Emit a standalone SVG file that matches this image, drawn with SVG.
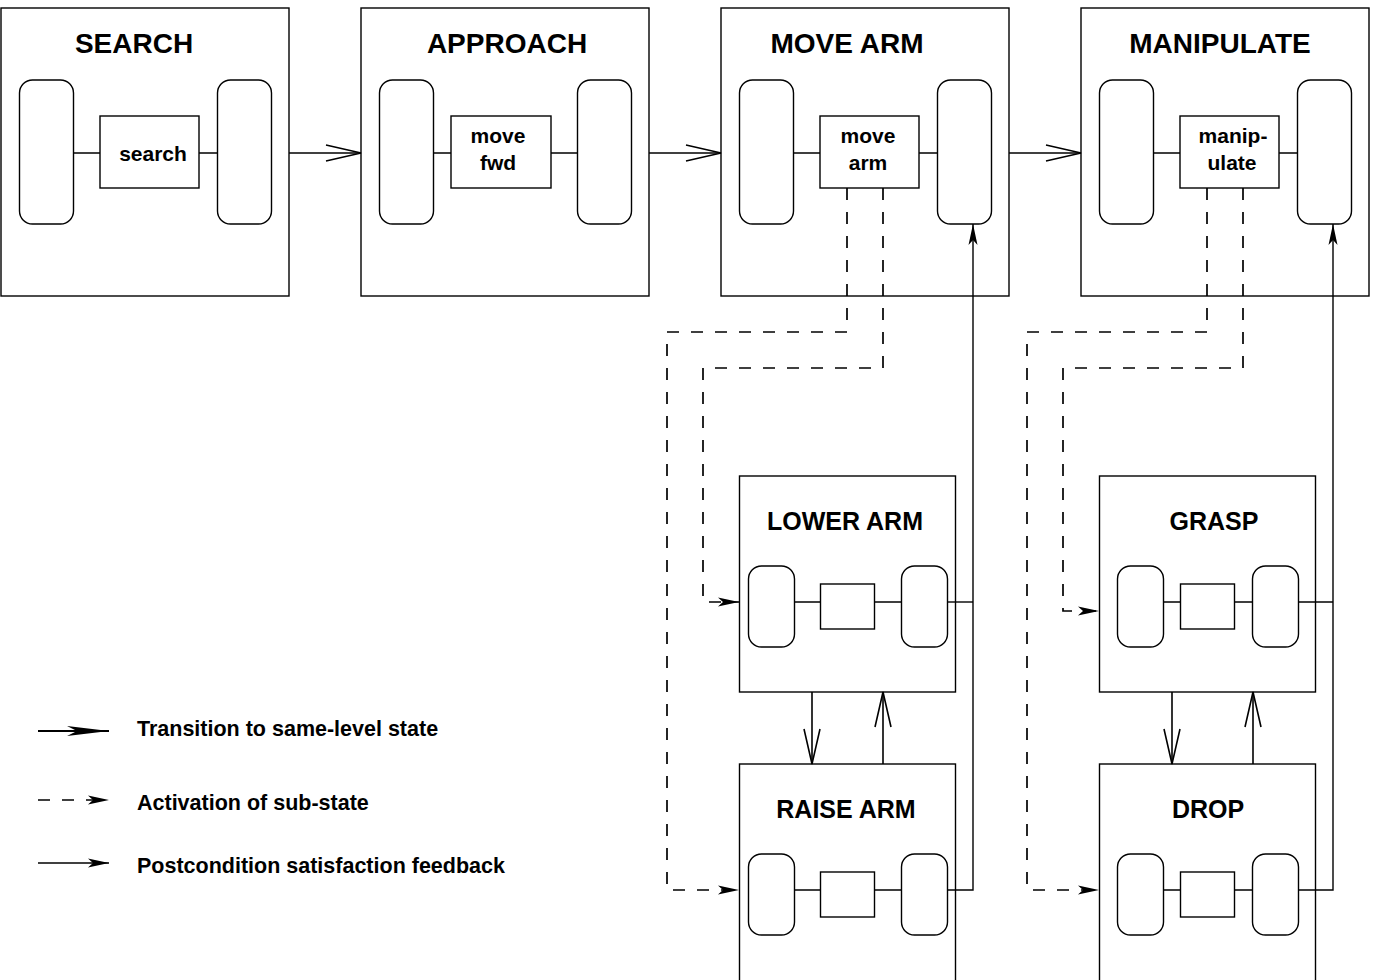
<svg xmlns="http://www.w3.org/2000/svg" width="1374" height="980" viewBox="0 0 1374 980">
<style>
.box{fill:#fff;stroke:#000;stroke-width:1.4}
.pill{fill:#fff;stroke:#000;stroke-width:1.4}
.act{fill:#fff;stroke:#000;stroke-width:1.4}
.ln{fill:none;stroke:#000;stroke-width:1.4}
.tr{fill:none;stroke:#000;stroke-width:1.6}
.dash{fill:none;stroke:#000;stroke-width:1.7;stroke-dasharray:12 12}
.t1{font-family:"Liberation Sans",Arial,Helvetica,sans-serif;font-weight:bold;font-size:28px;text-anchor:middle;fill:#000}
.t2{font-family:"Liberation Sans",Arial,Helvetica,sans-serif;font-weight:bold;font-size:25px;text-anchor:middle;fill:#000}
.t3{font-family:"Liberation Sans",Arial,Helvetica,sans-serif;font-weight:bold;font-size:21px;text-anchor:middle;fill:#000}
.lg{font-family:"Liberation Sans",Arial,Helvetica,sans-serif;font-weight:bold;font-size:21.5px;fill:#000}
</style>
<defs>
<marker id="open" markerUnits="userSpaceOnUse" markerWidth="40" markerHeight="22" viewBox="-38 -11 40 22" refX="0" refY="0" orient="auto" overflow="visible">
<path d="M-35,-8 L0,0 L-35,8" fill="none" stroke="#000" stroke-width="1.6"/>
</marker>
<marker id="fill" markerUnits="userSpaceOnUse" markerWidth="24" markerHeight="12" viewBox="-22 -6 24 12" refX="0" refY="0" orient="auto" overflow="visible">
<path d="M0,0 L-21,-4.5 L-16,0 L-21,4.5 Z" fill="#000"/>
</marker>
<marker id="big" markerUnits="userSpaceOnUse" markerWidth="46" markerHeight="14" viewBox="-44 -7 46 14" refX="0" refY="0" orient="auto" overflow="visible">
<path d="M0,0 L-42,-5 L-32,0 L-42,5 Z" fill="#000"/>
</marker>
</defs>
<rect width="1374" height="980" fill="#fff"/>

<g id="search">
<rect class="box" x="1" y="8" width="288" height="288"/>
<text class="t1" x="134" y="53">SEARCH</text>
<rect class="pill" x="19.5" y="80" width="54" height="144" rx="13"/>
<rect class="pill" x="217.5" y="80" width="54" height="144" rx="13"/>
<rect class="act" x="100" y="116" width="99" height="72"/>
<path class="ln" d="M73.5,153 H100 M199,153 H217.5"/>
<text class="t3" x="153" y="161">search</text>
</g>

<g id="approach">
<rect class="box" x="361" y="8" width="288" height="288"/>
<text class="t1" x="507" y="53">APPROACH</text>
<rect class="pill" x="379.5" y="80" width="54" height="144" rx="13"/>
<rect class="pill" x="577.5" y="80" width="54" height="144" rx="13"/>
<rect class="act" x="451" y="116" width="100" height="72"/>
<path class="ln" d="M433.5,153 H451 M551,153 H577.5"/>
<text class="t3" x="498" y="143">move</text>
<text class="t3" x="498" y="170">fwd</text>
</g>

<g id="movearm">
<rect class="box" x="721" y="8" width="288" height="288"/>
<text class="t1" x="847" y="53">MOVE ARM</text>
<rect class="pill" x="739.5" y="80" width="54" height="144" rx="13"/>
<rect class="pill" x="937.5" y="80" width="54" height="144" rx="13"/>
<rect class="act" x="820" y="116" width="99" height="72"/>
<path class="ln" d="M793.5,153 H820 M919,153 H937.5"/>
<text class="t3" x="868" y="143">move</text>
<text class="t3" x="868" y="170">arm</text>
</g>

<g id="manipulate">
<rect class="box" x="1081" y="8" width="288" height="288"/>
<text class="t1" x="1220" y="53">MANIPULATE</text>
<rect class="pill" x="1099.5" y="80" width="54" height="144" rx="13"/>
<rect class="pill" x="1297.5" y="80" width="54" height="144" rx="13"/>
<rect class="act" x="1180" y="116" width="99" height="72"/>
<path class="ln" d="M1153.5,153 H1180 M1279,153 H1297.5"/>
<text class="t3" x="1233" y="143">manip-</text>
<text class="t3" x="1232" y="170">ulate</text>
</g>

<g id="lowerarm">
<rect class="box" x="739.5" y="476" width="216" height="216"/>
<text class="t2" x="845" y="530">LOWER ARM</text>
<rect class="pill" x="748.5" y="566" width="46" height="81" rx="13"/>
<rect class="pill" x="901.5" y="566" width="46" height="81" rx="13"/>
<rect class="act" x="820.5" y="584" width="54" height="45"/>
<path class="ln" d="M794.5,602 H820.5 M874.5,602 H901.5"/>
</g>

<g id="raisearm">
<rect class="box" x="739.5" y="764" width="216" height="218"/>
<text class="t2" x="846" y="818">RAISE ARM</text>
<rect class="pill" x="748.5" y="854" width="46" height="81" rx="13"/>
<rect class="pill" x="901.5" y="854" width="46" height="81" rx="13"/>
<rect class="act" x="820.5" y="872" width="54" height="45"/>
<path class="ln" d="M794.5,890 H820.5 M874.5,890 H901.5"/>
</g>

<g id="grasp">
<rect class="box" x="1099.5" y="476" width="216" height="216"/>
<text class="t2" x="1214" y="530">GRASP</text>
<rect class="pill" x="1117.5" y="566" width="46" height="81" rx="13"/>
<rect class="pill" x="1252.5" y="566" width="46" height="81" rx="13"/>
<rect class="act" x="1180.5" y="584" width="54" height="45"/>
<path class="ln" d="M1163.5,602 H1180.5 M1234.5,602 H1252.5"/>
</g>

<g id="drop">
<rect class="box" x="1099.5" y="764" width="216" height="218"/>
<text class="t2" x="1208" y="818">DROP</text>
<rect class="pill" x="1117.5" y="854" width="46" height="81" rx="13"/>
<rect class="pill" x="1252.5" y="854" width="46" height="81" rx="13"/>
<rect class="act" x="1180.5" y="872" width="54" height="45"/>
<path class="ln" d="M1163.5,890 H1180.5 M1234.5,890 H1252.5"/>
</g>

<g id="connectors">
<path class="tr" d="M289,153 H361" marker-end="url(#open)"/>
<path class="tr" d="M649,153 H721" marker-end="url(#open)"/>
<path class="tr" d="M1009,153 H1081" marker-end="url(#open)"/>

<path class="tr" d="M812,692 V764" marker-end="url(#open)"/>
<path class="tr" d="M883,764 V692" marker-end="url(#open)"/>
<path class="tr" d="M1172,692 V764" marker-end="url(#open)"/>
<path class="tr" d="M1253,764 V692" marker-end="url(#open)"/>

<path class="dash" d="M847,188 V332 H667 V890 H739" marker-end="url(#fill)"/>
<path class="dash" d="M883,188 V368 H703 V602 H739" marker-end="url(#fill)"/>
<path class="dash" d="M1207,188 V332 H1027 V890 H1099" marker-end="url(#fill)"/>
<path class="dash" d="M1243,188 V368 H1063 V611 H1099" marker-end="url(#fill)"/>

<path class="ln" d="M947.5,890 H973 V224" marker-end="url(#fill)"/>
<path class="ln" d="M947.5,602 H973"/>
<path class="ln" d="M1298.5,890 H1333 V224" marker-end="url(#fill)"/>
<path class="ln" d="M1298.5,602 H1333"/>
</g>

<g id="legend">
<path d="M38,731 H109" fill="none" stroke="#000" stroke-width="2" marker-end="url(#big)"/>
<text class="lg" x="137" y="736">Transition to same-level state</text>
<path class="dash" d="M38,800 H109" marker-end="url(#fill)"/>
<text class="lg" x="137" y="810">Activation of sub-state</text>
<path class="ln" d="M38,863 H109" marker-end="url(#fill)"/>
<text class="lg" x="137" y="873">Postcondition satisfaction feedback</text>
</g>
</svg>
